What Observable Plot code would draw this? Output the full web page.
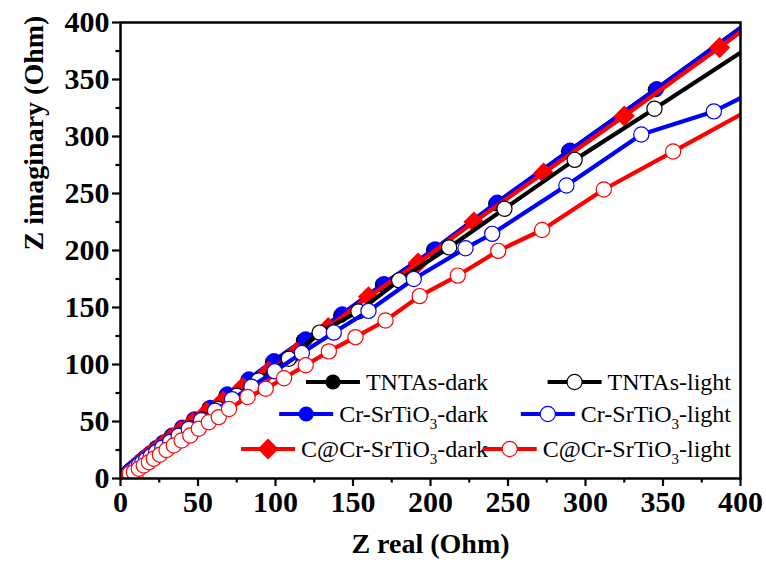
<!DOCTYPE html>
<html><head><meta charset="utf-8">
<script src="https://cdn.jsdelivr.net/npm/d3@7"></script>
<script src="https://cdn.jsdelivr.net/npm/@observablehq/plot@0.6"></script>
<style>
body{margin:0;background:#fff;}
#wrap{position:relative;width:766px;height:577px;background:#fff;}
#wrap svg{position:absolute;left:0;top:0;}
</style></head><body><div id="wrap"></div>
<script>
// ---------- data ----------
const tntasDarkX = [3.0, 3.6, 4.3, 5.2, 6.2, 7.5, 9.0, 10.8, 13.0, 15.6, 18.8, 22.6, 27.2, 32.6, 39.2, 47, 57, 68, 82, 98, 118, 142, 169, 202, 242, 289, 345, 413];
const tntasDarkY = [2.3, 3.2, 4.2, 5.6, 7, 8.5, 10.5, 12.5, 15.3, 18.3, 21.8, 26.2, 31.2, 37, 44, 51.3, 61.5, 73, 86, 102, 121, 143, 170, 200.5, 241, 287, 341, 408];

const crDarkX = [3.2, 3.8, 4.5, 5.4, 6.5, 7.8, 9.4, 11.2, 13.4, 16.1, 19.3, 23.1, 27.7, 33.2, 39.8, 47.7, 58, 68.8, 82.8, 99, 119.4, 143, 170, 203, 243, 290, 346, 414];
const crDarkY = [2.5, 3.5, 4.5, 6, 7.5, 9, 11, 13, 16, 19, 22.5, 27, 32, 38, 45, 52.3, 62.5, 74.3, 87.4, 103.5, 122.5, 144.4, 171, 201.5, 242.4, 288, 342, 409];

const ccrDarkX = [3.2, 3.9, 4.7, 5.6, 6.7, 8, 9.6, 11.4, 13.6, 16.2, 19.3, 23, 27.5, 32.8, 39, 46.5, 55.5, 66, 78.8, 95.5, 113.5, 134, 160, 192, 228, 273, 325, 386.5, 460];
const ccrDarkY = [2.5, 3.3, 4.3, 5.5, 7, 8.5, 10.5, 12.5, 15, 18, 21.5, 25.5, 30, 35.5, 42, 49, 58, 68, 80, 94, 111, 132.5, 159.5, 189, 225, 268, 318, 378, 452];

const tntasLightX = [3.5, 4.2, 5, 6, 7, 8.5, 10, 12, 14, 16.5, 19.5, 23, 27, 32, 38, 45, 53, 63, 75, 89, 108.6, 128.5, 153.5, 179.8, 212, 247.7, 293, 344.5, 405];
const tntasLightY = [3, 3.8, 4.7, 5.8, 7, 8.5, 10, 12, 14, 16.5, 19.5, 23, 27, 32, 37.5, 44, 51.5, 61, 72.5, 86, 105, 128, 146.5, 173.8, 202.7, 236.6, 279.5, 324.3, 378];

const crLightX = [4, 5, 6, 7, 8.5, 10, 12, 14, 16.5, 19.5, 23, 27, 32, 37.5, 44, 52, 61, 72, 84.5, 99.5, 117, 137.6, 160, 189.2, 222.6, 239.8, 287.7, 336, 382.8, 430];
const crLightY = [3.5, 4.5, 5.5, 7, 8.5, 10, 12, 14, 16.5, 19.5, 23, 27, 32, 37.5, 43.5, 51, 59.5, 69.5, 80.5, 94, 110, 128, 147, 175, 202, 214.6, 257, 301.8, 322, 354];

const ccrLightX = [9.7, 4.5, 6, 8.6, 11.8, 15, 18.3, 21.5, 25.4, 29.7, 34.4, 39.4, 45, 50.5, 57, 63.4, 70, 82, 93.7, 105.5, 119.5, 134.4, 151.6, 171, 193, 217.6, 243.7, 272, 311.8, 356.5, 405];
const ccrLightY = [0.5, 3, 4.4, 5.6, 8.5, 11.4, 14.3, 17.3, 20.8, 25, 29, 33.3, 37.7, 43.6, 49.4, 53.8, 61, 71.5, 78.7, 88, 99.3, 111.5, 124, 138.6, 160, 178, 199.7, 218, 253.5, 286.8, 323];

const seriesNames = ["TNTAs-dark", "Cr-SrTiO3-dark", "C@Cr-SrTiO3-dark", "TNTAs-light", "Cr-SrTiO3-light", "C@Cr-SrTiO3-light"];
const seriesX = [tntasDarkX, crDarkX, ccrDarkX, tntasLightX, crLightX, ccrLightX];
const seriesY = [tntasDarkY, crDarkY, ccrDarkY, tntasLightY, crLightY, ccrLightY];
const seriesColors = ["#000000", "#0000ff", "#ff0000", "#000000", "#0000ff", "#ff0000"];
const seriesSymbols = ["circle", "circle", "diamond2", "circle", "circle", "circle"];
const seriesFilled = [true, true, true, false, false, false];

const xTicks = [0, 50, 100, 150, 200, 250, 300, 350, 400];
const yTicks = [0, 50, 100, 150, 200, 250, 300, 350, 400];
const minorTicks = [25, 75, 125, 175, 225, 275, 325, 375];

// ---------- build ----------
const font = "'Liberation Serif', 'Times New Roman', serif";
const symR = s => s === "diamond2" ? 9.5 : 7.6;
const marks = [];
seriesNames.forEach((name, i) => {
  const rows = seriesX[i].map((x, j) => ({x, y: seriesY[i][j]}));
  marks.push(Plot.line(rows, {x: "x", y: "y", stroke: seriesColors[i], strokeWidth: 4.2, clip: true}));
  marks.push(Plot.dot(rows, {
    x: "x", y: "y", symbol: seriesSymbols[i], r: symR(seriesSymbols[i]), clip: true,
    fill: seriesFilled[i] ? seriesColors[i] : "#ffffff",
    stroke: seriesColors[i], strokeWidth: seriesFilled[i] ? 0 : 1.2
  }));
});

const chart = Plot.plot({
  width: 766, height: 577,
  marginLeft: 120, marginRight: 26, marginTop: 22, marginBottom: 99,
  style: {fontFamily: font, background: "transparent", color: "#000"},
  x: {domain: [0, 400]},
  y: {domain: [0, 400]},
  marks: [
    Plot.axisX(minorTicks, {tickSize: 4.5, strokeWidth: 2.2, tickFormat: () => "", label: null}),
    Plot.axisY(minorTicks, {tickSize: 4.5, strokeWidth: 2.2, tickFormat: () => "", label: null}),
    Plot.axisX(xTicks, {tickSize: 8, strokeWidth: 2.2, tickPadding: 4, fontSize: 30, fontWeight: "bold", label: null}),
    Plot.axisY(yTicks, {tickSize: 8, strokeWidth: 2.2, tickPadding: 3, fontSize: 30, fontWeight: "bold", label: null}),
    ...marks,
    Plot.frame({stroke: "#000", strokeWidth: 2.5}),
    Plot.text(["Z real (Ohm)"], {frameAnchor: "bottom", dy: 74, fontSize: 28, fontWeight: "bold", fill: "#000"}),
    Plot.text(["Z imaginary (Ohm)"], {frameAnchor: "left", dx: -86, rotate: -90, fontSize: 28, fontWeight: "bold", fill: "#000"})
  ]
});
const wrap = document.getElementById("wrap");
wrap.appendChild(chart);

// ---------- legend overlay ----------
const leg = d3.select(wrap).append("svg").attr("width", 766).attr("height", 577)
  .style("font-family", font).style("pointer-events", "none");
const rowY = [382, 414, 449];
const colRight = [488, 731];
seriesNames.forEach((name, i) => {
  const col = i < 3 ? 0 : 1, row = i % 3;
  const y = rowY[row];
  const t = leg.append("text").attr("x", colRight[col]).attr("y", y).attr("dy", "0.35em")
    .attr("text-anchor", "end").attr("font-size", 24).attr("fill", "#000");
  const m = name.match(/^(.*TiO)3(.*)$/);
  if (m) {
    t.append("tspan").text(m[1]);
    t.append("tspan").attr("font-size", 15).attr("dy", 7).text("3");
    t.append("tspan").attr("dy", -7).text(m[2]);
  } else t.text(name);
  const bb = t.node().getBBox();
  const x1 = bb.x - 6, x0 = x1 - 54, xm = (x0 + x1) / 2;
  leg.append("line").attr("x1", x0).attr("x2", x1).attr("y1", y).attr("y2", y)
    .attr("stroke", seriesColors[i]).attr("stroke-width", 4.2);
  const rr = symR(seriesSymbols[i]);
  const sym = d3.symbol().type(seriesSymbols[i] === "diamond2" ? d3.symbolDiamond2 : d3.symbolCircle).size(Math.PI * rr * rr);
  leg.append("path").attr("d", sym()).attr("transform", `translate(${xm},${y})`)
    .attr("fill", seriesFilled[i] ? seriesColors[i] : "#fff")
    .attr("stroke", seriesColors[i]).attr("stroke-width", seriesFilled[i] ? 0 : 1.2);
});
</script></body></html>
